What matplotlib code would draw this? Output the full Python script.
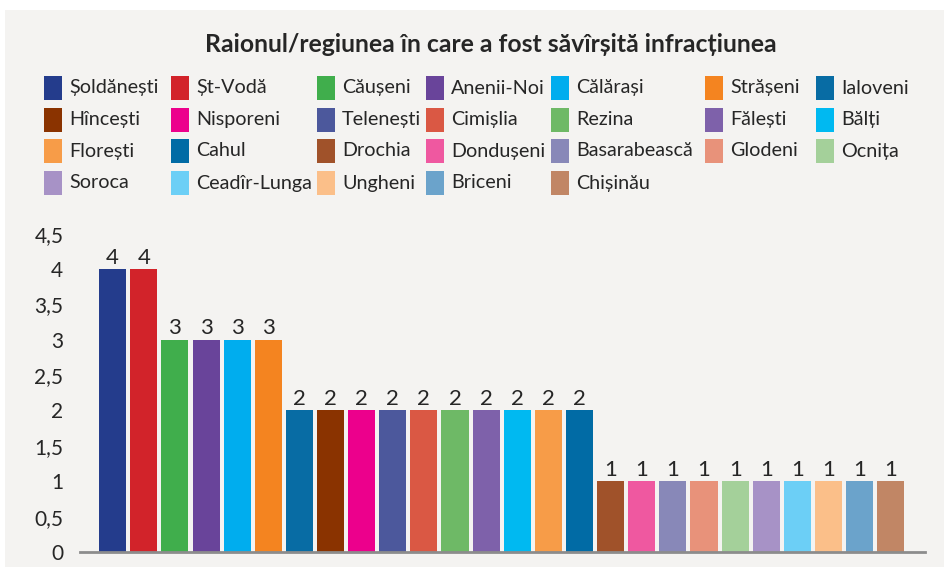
import matplotlib
matplotlib.use("Agg")
import matplotlib.pyplot as plt
from matplotlib.patches import Rectangle

categories = ["Șoldănești", "Ș-Vodă", "Căușeni", "Anenii-Noi", "Călărași", "Strășeni", "Ialoveni",
              "Hîncești", "Nisporeni", "Telenești", "Cimișlia", "Rezina", "Fălești", "Bălți",
              "Florești", "Cahul", "Drochia", "Dondușeni", "Basarabească", "Glodeni", "Ocnița",
              "Soroca", "Ceadîr-Lunga", "Ungheni", "Briceni", "Chișinău"]
legend_labels = ["Șoldănești", "Șt-Vodă", "Căușeni", "Anenii-Noi", "Călărași", "Strășeni", "Ialoveni",
                 "Hîncești", "Nisporeni", "Telenești", "Cimișlia", "Rezina", "Fălești", "Bălți",
                 "Florești", "Cahul", "Drochia", "Dondușeni", "Basarabească", "Glodeni", "Ocnița",
                 "Soroca", "Ceadîr-Lunga", "Ungheni", "Briceni", "Chișinău"]
values = [4, 4, 3, 3, 3, 3, 2, 2, 2, 2, 2, 2, 2, 2, 2, 2, 1, 1, 1, 1, 1, 1, 1, 1, 1, 1]
colors = ["#243C8C", "#D2232A", "#40AE4C", "#69449A", "#00ADEE", "#F48420", "#086CA4",
          "#8A3300", "#EC008C", "#4C589C", "#DA5844", "#6EB966", "#7E61AA", "#00B9F1",
          "#F79C48", "#016BA5", "#A0522A", "#EF58A0", "#8888B8", "#E8927A", "#A4D09A",
          "#A792C6", "#6CCFF6", "#FBBF89", "#6BA3CB", "#C18665"]
yticks = [0, 0.5, 1, 1.5, 2, 2.5, 3, 3.5, 4, 4.5]
ytick_labels = ["0", "0,5", "1", "1,5", "2", "2,5", "3", "3,5", "4", "4,5"]
title = "Raionul/regiunea în care a fost săvîrșită infracțiunea"

plt.rcParams['font.family'] = ['Lato', 'DejaVu Sans']
W, H = 944, 575
fig = plt.figure(figsize=(W / 100, H / 100), dpi=100, facecolor="white")
bg = "#F4F3F1"
fig.patches.append(Rectangle((5 / W, 1 - 567 / H), (W - 5) / W, (567 - 10) / H,
                             transform=fig.transFigure, facecolor=bg, edgecolor="none", zorder=-10))

ax = fig.add_axes([80 / W, 1 - 552 / H, 845 / W, (552 - 233.6) / H])
ax.set_facecolor("none")
x = list(range(len(values)))
bars = ax.bar(x, values, width=0.87, color=colors, zorder=2)
for xi, v in zip(x, values):
    ax.annotate(str(v), (xi, v), xytext=(0, 1), textcoords="offset points",
                ha="center", va="bottom", fontsize=16, color="#262626")
ax.set_xlim(-1.05, 26.1)
ax.set_ylim(0, 4.5)
ax.set_yticks(yticks)
ax.set_yticklabels(ytick_labels, fontsize=15, color="#262626")
ax.set_xticks([])
ax.tick_params(axis="y", length=0, pad=12)
for s in ["top", "right", "left"]:
    ax.spines[s].set_visible(False)
ax.spines["bottom"].set_color("#8C8C8C")
ax.spines["bottom"].set_linewidth(2.0)
ax.spines["bottom"].set_zorder(3)

fig.text(491 / W, 1 - 44 / H, title, ha="center", va="center", fontsize=17.8, fontweight="bold",
         color="#262626")

# legend (manual, Excel-like layout)
col_x = [44, 171, 317, 426, 551, 705, 816]
row_y = [88, 119.5, 151, 183]
pw, ph = 18, 24
for i, (lab, c) in enumerate(zip(legend_labels, colors)):
    r, cidx = divmod(i, 7)
    px, py = col_x[cidx], row_y[r]
    fig.patches.append(Rectangle((px / W, 1 - (py + ph / 2) / H), pw / W, ph / H,
                                 transform=fig.transFigure, facecolor=c, edgecolor="none", zorder=1))
    fig.text((px + pw + 7) / W, 1 - py / H, lab, ha="left", va="center", fontsize=14.2, color="#262626")

fig.savefig("out.png", dpi=100, facecolor="white")
